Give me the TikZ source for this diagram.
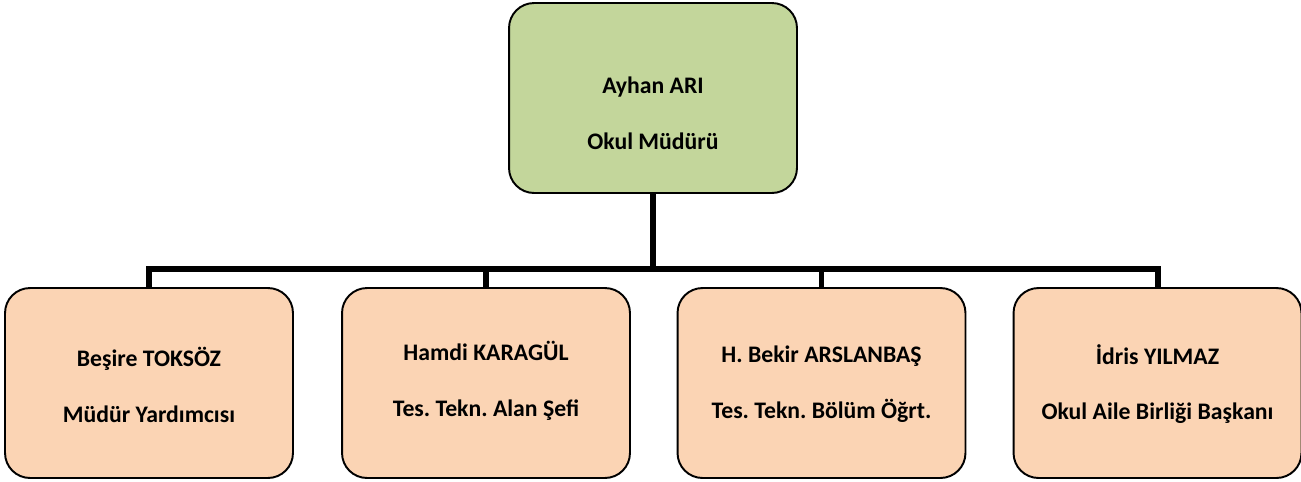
\documentclass[tikz,border=0pt]{standalone}
\usepackage{fontspec}
\setmainfont{Carlito}
\usepackage{xcolor}
\usetikzlibrary{positioning}
\frenchspacing

\definecolor{chieffill}{HTML}{C3D69B}
\definecolor{stafffill}{HTML}{FBD4B4}

\begin{document}
\begin{tikzpicture}[x=0.02cm, y=-0.02cm,
  box/.style={draw, rectangle, rounded corners=0.5cm, line width=1.1pt, minimum width=5.76cm, minimum height=3.8cm},
  chief/.style={box, fill=chieffill},
  staff/.style={box, fill=stafffill},
  txt/.style={align=center, inner sep=0pt, font=\fontsize{13.5}{31.7}\selectfont\bfseries},
  conn/.style={line width=3.4pt}
]
\useasboundingbox (0,0) rectangle (1301,481);

% Boxes
\node[chief] (ari) at (653,98) {};
\node[staff] (besire) at (149,383) {};
\node[staff] (hamdi) at (486,383) {};
\node[staff] (bekir) at (821.5,383) {};
\node[staff] (idris) at (1157.5,383) {};

% Texts
\node[txt] (aritext) at (653,113) {Ayhan ARI\\Okul Müdürü};
\node[txt] (besiretext) at (149,385) {Beşire TOKSÖZ\\Müdür Yardımcısı};
\node[txt] (hamditext) at (486,381) {Hamdi KARAGÜL\\Tes. Tekn. Alan Şefi};
\node[txt] (bekirtext) at (821.5,384) {H. Bekir ARSLANBAŞ\\Tes. Tekn. Bölüm Öğrt.};
\node[txt] (idristext) at (1157.5,384) {İdris YILMAZ\\Okul Aile Birliği Başkanı};

% Connectors
\coordinate (bar) at (653,269);
\draw[conn] (ari.south) -- (bar);
\draw[conn] (besire.north) |- (bar);
\draw[conn] (hamdi.north) |- (bar);
\draw[conn] (bekir.north) |- (bar);
\draw[conn] (idris.north) |- (bar);

\end{tikzpicture}
\end{document}
